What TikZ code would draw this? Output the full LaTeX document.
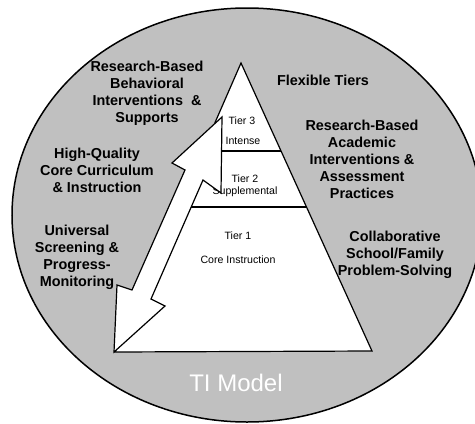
\documentclass[tikz,border=0pt]{standalone}
\usepackage{fontspec}
\setmainfont{Liberation Sans}
\definecolor{ovalgray}{RGB}{192,192,192}
\tikzset{
  lbl/.style={font=\fontsize{14.4}{17}\selectfont\bfseries, align=center, inner sep=0pt},
  tiertext/.style={font=\fontsize{10.6}{12}\selectfont, inner sep=0pt},
}
\begin{document}
\begin{tikzpicture}[x=1pt,y=-1pt]
\useasboundingbox (0,0) rectangle (475,424);
\clip (0,0) rectangle (475,424);

% oval
\draw[fill=ovalgray, line width=1.5pt] (247,215) ellipse [x radius=235pt, y radius=207pt];

% pyramid
\coordinate (bl) at (115,352);
\coordinate (apex) at (241,63);
\coordinate (br) at (372,351);
\draw[fill=white, line width=1.2pt] (bl) -- (apex) -- (br) -- cycle;
\draw[line width=1.2pt] (202.6,151) -- (281,151);
\draw[line width=1.2pt] (178,207) -- (306.5,207);

\node[tiertext] (t3) at (242,121) {Tier 3};
\node[tiertext] (t3b) at (243,141) {Intense};
\node[tiertext] (t2) at (245,179) {Tier 2};
\node[tiertext] (t2b) at (245,192) {Supplemental};
\node[tiertext] (t1) at (238,236) {Tier 1};
\node[tiertext] (t1b) at (238,260) {Core Instruction};

% two-way arrow
\draw[fill=white, line width=1.2pt] (222,117) -- (221,193) -- (203,180) -- (151,299) -- (165,306)
  -- (114,352) -- (117,285) -- (132,290) -- (185,170) -- (172,163) -- cycle;

% labels
\node[lbl] (behav) at (147,93) {Research-Based\\Behavioral\\Interventions\ \ \&\\Supports};
\node[lbl] (core) at (97,170) {High-Quality\\Core Curriculum\\\& Instruction};
\node[lbl] (screen) at (77,257) {Universal\\Screening \&\\Progress-\\Monitoring};
\node[lbl] (flex) at (323,80) {Flexible Tiers};
\node[lbl] (acad) at (362,159) {Research-Based\\Academic\\Interventions \&\\Assessment\\Practices};
\node[lbl] (collab) at (395,255) {Collaborative\\School/Family\\Problem-Solving};
\node[font=\fontsize{24}{28}\selectfont, text=white, inner sep=0pt] (model) at (236,383) {TI Model};
\end{tikzpicture}
\end{document}
